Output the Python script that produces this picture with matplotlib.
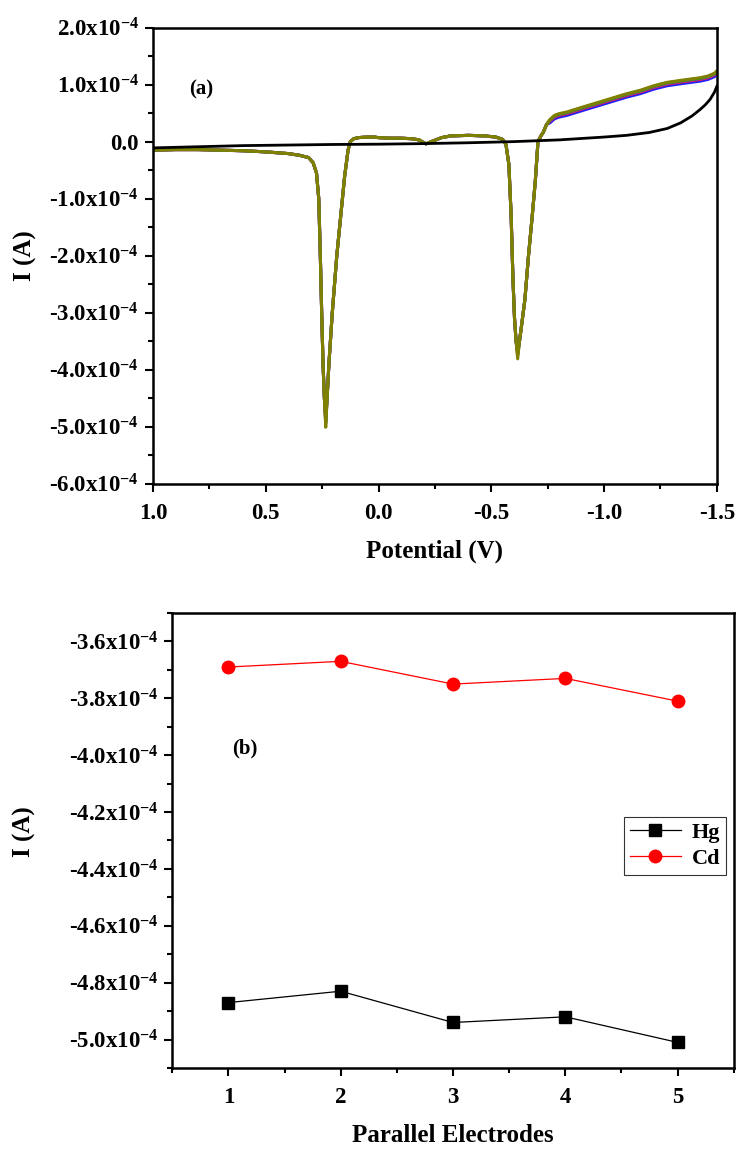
import numpy as np
import matplotlib.pyplot as plt
from matplotlib.ticker import MultipleLocator, FuncFormatter

plt.rcParams['font.family'] = 'Liberation Serif'
plt.rcParams['font.weight'] = 'bold'
plt.rcParams['mathtext.fontset'] = 'custom'
plt.rcParams['mathtext.rm'] = 'Liberation Serif:bold'
plt.rcParams['mathtext.bf'] = 'Liberation Serif:bold'
plt.rcParams['mathtext.default'] = 'rm'
plt.rcParams['axes.unicode_minus'] = False

# electrodes 1..5, peak currents (x1e-4 A)
electrodes = [1, 2, 3, 4, 5]
hg_peak = [-4.87, -4.83, -4.94, -4.92, -5.01]
cd_peak = [-3.69, -3.67, -3.75, -3.73, -3.81]

# stripping voltammogram of one electrode (V, x1e-4 A); peak points filled per electrode
trace_v = [1.00, 0.90, 0.80, 0.70, 0.60, 0.50, 0.40, 0.35, 0.31, 0.29, 0.275, 0.265,
           0.258, 0.252, 0.246, 0.240, 0.234, 0.228, 0.220, 0.205, 0.185, 0.165,
           0.150, 0.135, 0.125, 0.11, 0.09, 0.05, 0.02, 0.00, -0.05, -0.10, -0.15,
           -0.18, -0.21, -0.24, -0.28, -0.32, -0.40, -0.47, -0.52, -0.55, -0.565,
           -0.578, -0.588, -0.596, -0.603, -0.610, -0.617, -0.625, -0.635, -0.649,
           -0.665, -0.68, -0.695, -0.707, -0.72, -0.73, -0.745, -0.76, -0.78,
           -0.80, -0.835, -0.90, -1.00, -1.10, -1.16, -1.22, -1.28, -1.35, -1.425,
           -1.46, -1.49, -1.50]
trace_i = [-0.15, -0.14, -0.14, -0.15, -0.16, -0.18, -0.21, -0.24, -0.28, -0.37, -0.55, -1.0,
           -2.0, -3.0, -3.9, -4.5, None, -4.5, -3.9, -3.0, -2.0, -1.2,
           -0.6, -0.15, 0.0, 0.05, 0.07, 0.08, 0.08, 0.07, 0.06, 0.06, 0.05,
           0.03, -0.04, 0.01, 0.07, 0.10, 0.11, 0.10, 0.08, 0.04, -0.05,
           -0.4, -1.3, -2.4, -3.1, -3.5, None, -3.5, -3.2, -2.77,
           -2.0, -1.37, -0.7, 0.0, 0.10, 0.16, 0.30, 0.39, 0.46,
           0.49, 0.52, 0.60, 0.72, 0.84, 0.90, 0.98, 1.04, 1.08, 1.12,
           1.15, 1.20, 1.24]
tail_shift = [-0.06, -0.03, -0.02, -0.01, 0.0]
trace_colors = ['#1f1fff', '#ff2020', '#a020c0', '#20a020', '#808000']

# blank electrolyte
blank_v = [1.0, 0.8, 0.6, 0.4, 0.2, 0.0, -0.2, -0.4, -0.6, -0.8, -1.0, -1.1, -1.2,
           -1.28, -1.34, -1.39, -1.425, -1.45, -1.47, -1.49, -1.50]
blank_i = [-0.11, -0.09, -0.07, -0.06, -0.05, -0.045, -0.035, -0.02, 0.0, 0.03, 0.08,
           0.11, 0.16, 0.23, 0.33, 0.45, 0.56, 0.65, 0.74, 0.87, 0.97]

fig = plt.figure(figsize=(7.39, 11.49), dpi=100)
ax1 = fig.add_axes([0.207, 0.579, 0.763, 0.397])
ax2 = fig.add_axes([0.233, 0.0705, 0.760, 0.396])

def sci_fmt(val, pos):
    m = val * 1e4
    if abs(m) < 1e-9:
        return '0.0'
    return '%.1fx10$^{-4}$' % m

# (a) voltammograms
for k in range(len(electrodes)):
    cur = []
    for v, i in zip(trace_v, trace_i):
        if i is None:
            i = hg_peak[k] if v > 0 else cd_peak[k]
        elif v < -0.75:
            i = i + tail_shift[k]
        cur.append(i * 1e-4)
    ax1.plot(trace_v, cur, color=trace_colors[k], lw=2.2)
ax1.plot(blank_v, np.array(blank_i) * 1e-4, color='black', lw=2.0)

ax1.set_xlim(1.0, -1.5)
ax1.set_ylim(-6e-4, 2e-4)
ax1.xaxis.set_major_locator(MultipleLocator(0.5))
ax1.xaxis.set_minor_locator(MultipleLocator(0.25))
ax1.yaxis.set_major_locator(MultipleLocator(1e-4))
ax1.yaxis.set_minor_locator(MultipleLocator(0.5e-4))
ax1.yaxis.set_major_formatter(FuncFormatter(sci_fmt))
ax1.set_xlabel('Potential (V)', fontsize=18, fontweight='bold')
ax1.set_ylabel('I (A)', fontsize=18, fontweight='bold')
ax1.xaxis.set_label_coords(0.5, -0.122)
ax1.yaxis.set_label_coords(-0.205, 0.5)
ax1.text(0.065, 0.864, '(a)', transform=ax1.transAxes, fontsize=15, fontweight='bold',
         va='center')

# (b) peak currents of parallel electrodes
ax2.plot(electrodes, np.array(hg_peak) * 1e-4, color='black', lw=0.9, marker='s',
         markersize=8, label='Hg')
ax2.plot(electrodes, np.array(cd_peak) * 1e-4, color='red', lw=0.9, marker='o',
         markersize=9, label='Cd')
ax2.set_xlim(0.5, 5.5)
ax2.set_ylim(-5.1e-4, -3.5e-4)
ax2.xaxis.set_major_locator(MultipleLocator(1))
ax2.xaxis.set_minor_locator(MultipleLocator(0.5))
ax2.yaxis.set_major_locator(MultipleLocator(0.2e-4))
ax2.yaxis.set_minor_locator(MultipleLocator(0.1e-4))
ax2.yaxis.set_major_formatter(FuncFormatter(sci_fmt))
ax2.set_xlabel('Parallel Electrodes', fontsize=18, fontweight='bold')
ax2.set_ylabel('I (A)', fontsize=18, fontweight='bold')
ax2.xaxis.set_label_coords(0.5, -0.122)
ax2.yaxis.set_label_coords(-0.242, 0.52)
ax2.text(0.107, 0.703, '(b)', transform=ax2.transAxes, fontsize=15, fontweight='bold',
         va='center')
leg = ax2.legend(loc='upper right', bbox_to_anchor=(0.986, 0.552), fontsize=16,
                 frameon=True, fancybox=False, edgecolor='black', handlelength=2.3,
                 borderpad=0.25, labelspacing=0.25, handletextpad=0.5, borderaxespad=0)
leg.get_frame().set_linewidth(0.8)

for ax in (ax1, ax2):
    for s in ax.spines.values():
        s.set_linewidth(1.8)
    ax.tick_params(which='major', direction='out', length=6, width=1.5, labelsize=16.5,
                   pad=4)
    ax.tick_params(which='minor', direction='out', length=3.5, width=1.5)
    ax.tick_params(axis='x', which='major', pad=8)

fig.savefig('out.png', dpi=100)
